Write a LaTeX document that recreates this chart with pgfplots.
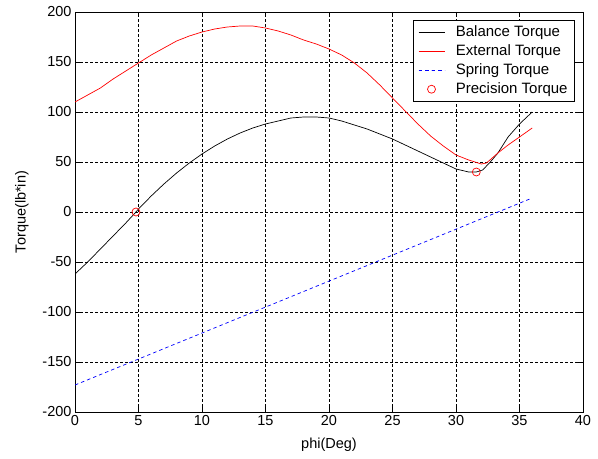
\documentclass[border=0pt]{standalone}
\usepackage{pgfplots}
\pgfplotsset{compat=1.18}
\usepackage{fontspec}
\setmainfont{Liberation Sans}
\pgfplotsset{mylegend/.style={legend image code/.code={\draw[mark repeat=2,mark phase=2,##1] plot coordinates {(0bp,0bp)(13bp,0bp)(26bp,0bp)};}}}
\begin{document}
\begin{tikzpicture}
\path[use as bounding box] (0,0) rectangle (598bp,459bp);
\begin{axis}[
  at={(75bp,47bp)}, anchor=south west,
  width=508bp, height=400bp, scale only axis,
  xmin=0, xmax=40, ymin=-200, ymax=200,
  xtick={0,5,...,40}, ytick={-200,-150,...,200},
  /pgf/number format/assume math mode=true,
  font=\fontsize{14.5bp}{17bp}\selectfont,
  tick align=inside, major tick length=5bp,
  tick style={black, line width=0.6bp},
  axis line style={black, line width=0.8bp},
  grid=major,
  major grid style={black, line width=0.6bp, dash pattern=on 2.5bp off 2.5bp},
  xlabel={phi(Deg)}, ylabel={Torque(lb*in)},
  xlabel style={yshift=-5bp},
  ylabel style={yshift=7bp},
  legend style={draw=black, line width=0.6bp, fill=white, font=\fontsize{15bp}{17bp}\selectfont,
    at={(rel axis cs:0.984,0.981)}, anchor=north east, row sep=2.7bp, column sep=9bp,
    inner xsep=5bp, inner ysep=4bp},
  legend cell align=left,
]
\addplot[black, line width=0.7bp, mylegend] coordinates {
(0,-62)(1,-50)(2,-37)(3,-24)(4,-11)(4.8,0)(5,3)(6,16)(7,28)(8,39)(9,49)(10,58)
(11,66)(12,73)(13,79)(14,84)(15,88)(16,91)(17,94)(18,95)(19,95)(20,94)(21,91)
(22,87)(23,83)(24,78)(25,73)(26,67)(27,61)(28,55)(29,49)(30,43)(31,40)(31.6,40)
(32.1,42)(32.7,50)(33.3,59)(34.1,75)(35,88)(36,100)};
\addlegendentry{Balance Torque}
\addplot[red, line width=0.7bp, mylegend] coordinates {
(0,110)(1,117)(2,124)(3,133)(4,141)(5,149)(6,157)(7,164)(8,171)(9,176)(10,180)
(11,183)(12,185)(13,186)(14,186)(15,184)(16,181)(17,177)(18,172)(19,168)(20,163)
(21,157)(22,149)(23,139)(24,127)(25,114)(26,101)(27,88)(28,76)(29,66)(30,57)
(31,52)(32,48)(32.4,49)(33.3,59)(34.1,67)(35,75)(36,84)};
\addlegendentry{External Torque}
\addplot[blue, line width=0.7bp, dash pattern=on 3.5bp off 3bp, mylegend] coordinates {
(0,-173)(36,14)};
\addlegendentry{Spring Torque}
\addplot[red, only marks, mark=o, mark size=4bp, line width=0.7bp, mylegend] coordinates {
(4.8,0)(31.6,40)};
\addlegendentry{Precision Torque}
\end{axis}
\end{tikzpicture}
\end{document}
